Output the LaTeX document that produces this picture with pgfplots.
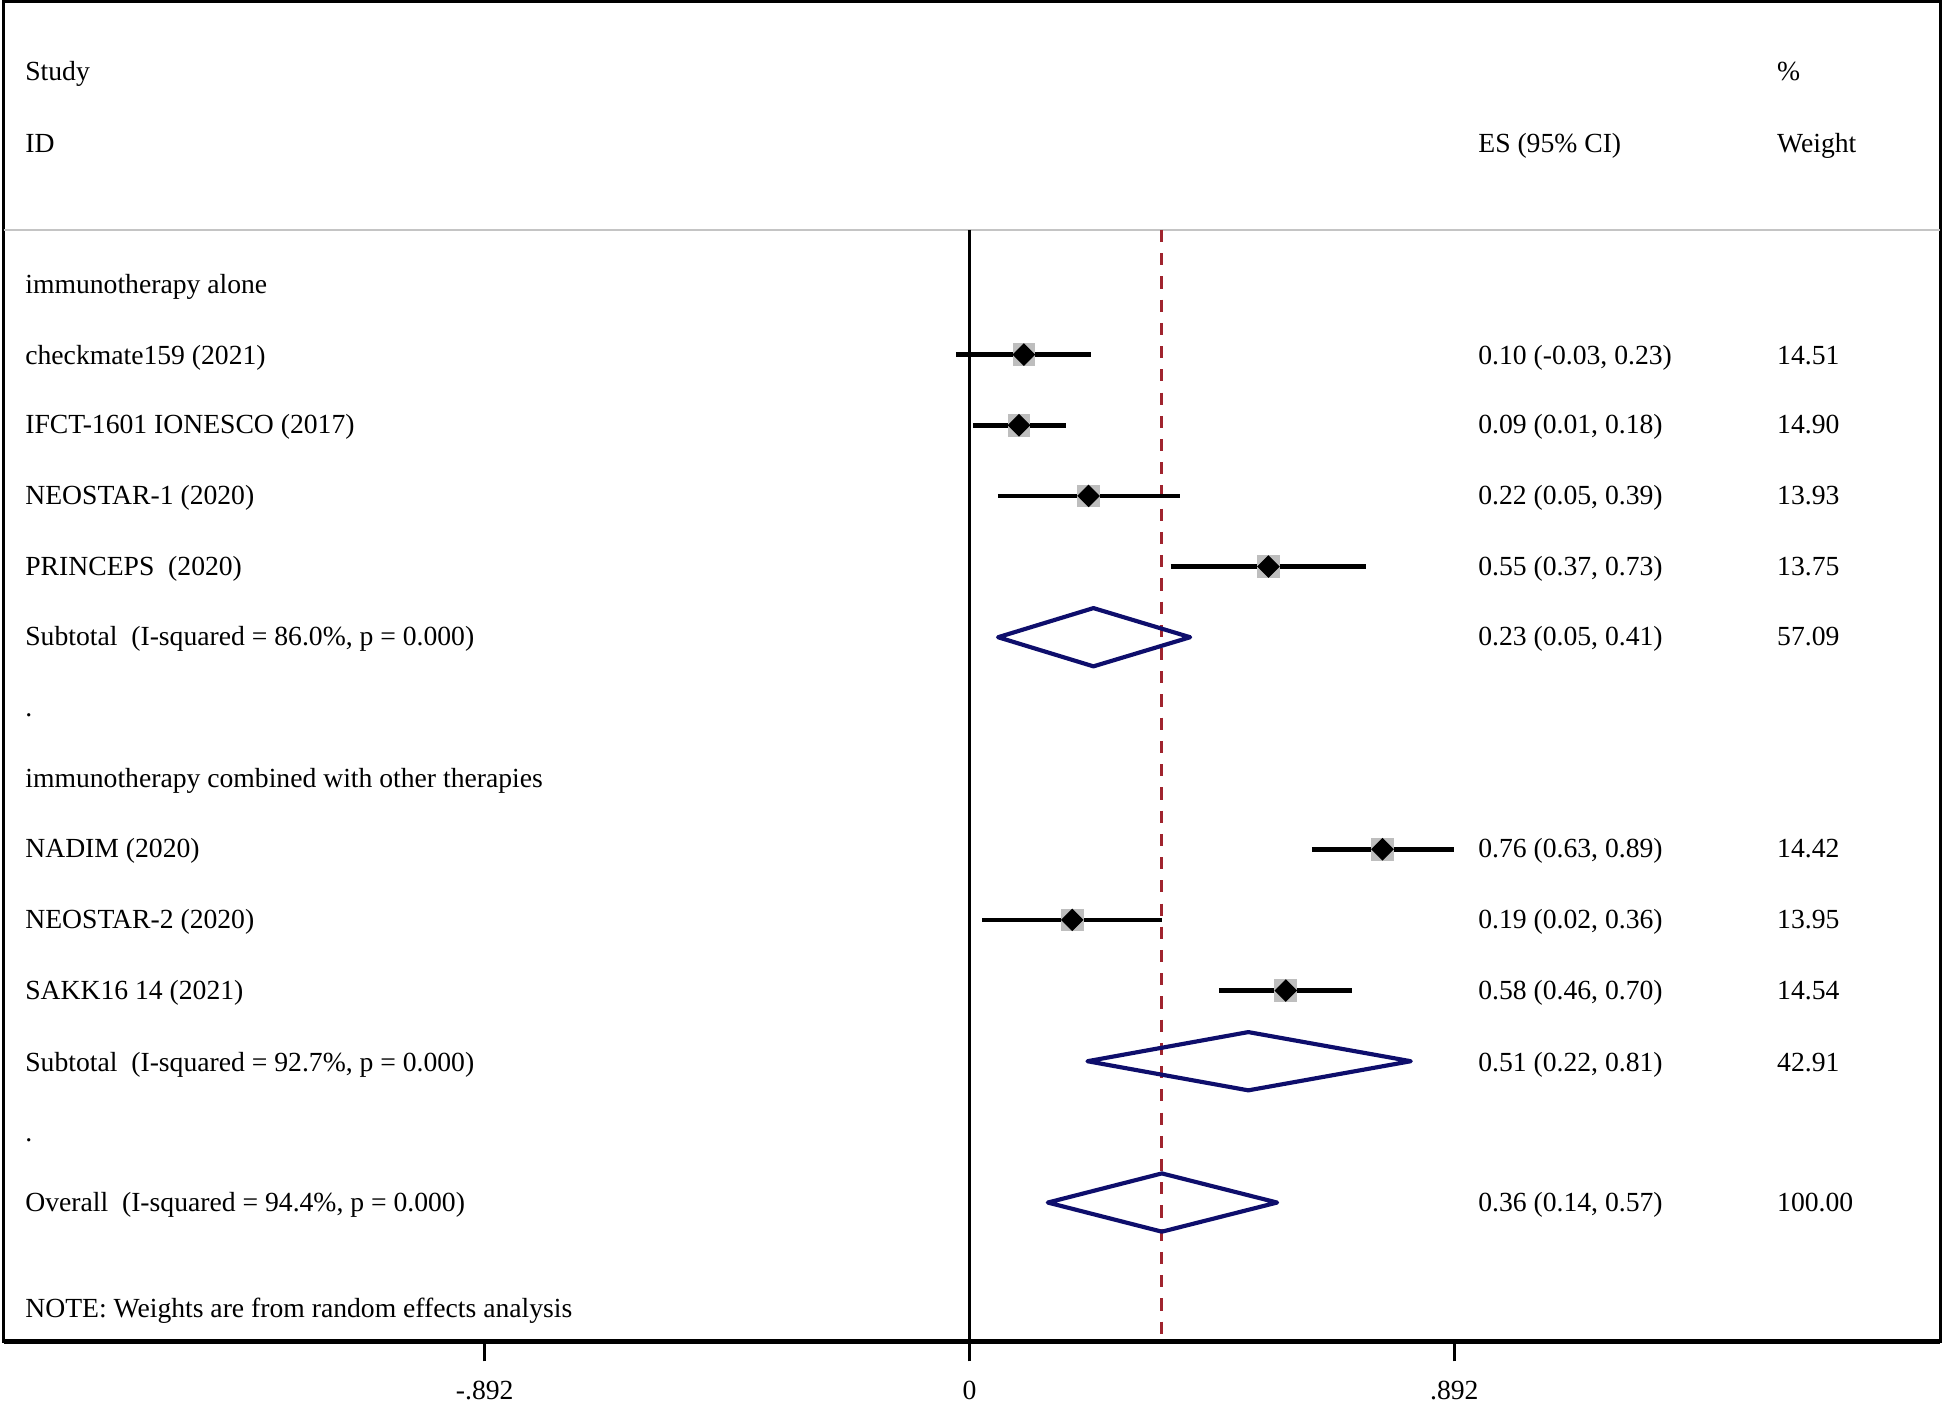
\documentclass[border=0pt]{standalone}
\usepackage{pgfplots}
\pgfplotsset{compat=1.18}
\usepackage{pgfplotstable}
\usepackage{fontspec}
\setmainfont{Liberation Serif}
\definecolor{navy}{RGB}{14,14,108}
\definecolor{dashred}{RGB}{160,36,46}
\definecolor{boxgray}{RGB}{190,190,190}
\definecolor{sepgray}{RGB}{196,196,196}

% y = minus the row position (in picture units)
\pgfplotstableread{
y es lo hi w
-286 0.100 -0.025 0.224 14.51
-343 0.091 0.007 0.178 14.90
-400 0.219 0.052 0.388 13.93
-457 0.550 0.370 0.730 13.75
-685 0.760 0.630 0.892 14.42
-742 0.189 0.023 0.354 13.95
-799 0.582 0.459 0.703 14.54
}\studies

\begin{document}
\begin{tikzpicture}
\useasboundingbox (-1.345pt,-24.2pt) rectangle (701.75pt,485.15pt);
\begin{axis}[
  at={(0pt,0pt)}, anchor=south west,
  scale only axis, width=700.4pt, height=484.7pt,
  xmin=-1.7772, xmax=1.7863, ymin=-1082, ymax=-1,
  axis line style={line width=1.1pt},
  xtick={-0.892,0,0.892}, xticklabels={-.892,0,.892},
  ytick=\empty,
  tick align=outside, xtick pos=left,
  major tick length=7.2pt,
  every tick/.style={black, line width=1.1pt},
  tick label style={font=\fontsize{10}{12}\selectfont},
  xticklabel style={yshift=-3.8pt},
  /pgf/number format/assume math mode=true,
  clip=false,
]
% header separator and bottom border
\addplot[sepgray, line width=0.9pt] coordinates {(-1.7772,-185.5) (1.7863,-185.5)};
\addplot[black, line width=1.6pt] coordinates {(-1.7772,-1082) (1.7863,-1082)};
% zero line and overall estimate line
\addplot[black, line width=1pt] coordinates {(0,-185.5) (0,-1082)};
\addplot[dashred, line width=1.1pt, dash pattern=on 4.4pt off 4pt] coordinates {(0.354,-185.5) (0.354,-1082)};
% weight boxes
\addplot[boxgray, only marks, mark=square*, mark size=3.92pt, mark options={draw=boxgray, fill=boxgray, line width=0pt}] table[x=es, y=y] {\studies};
% confidence intervals
\addplot[black, line width=1.7pt] coordinates {(-0.025,-286) (0.224,-286)};
\addplot[black, line width=1.7pt] coordinates {(0.007,-343) (0.178,-343)};
\addplot[black, line width=1.7pt] coordinates {(0.052,-400) (0.388,-400)};
\addplot[black, line width=1.7pt] coordinates {(0.370,-457) (0.730,-457)};
\addplot[black, line width=1.7pt] coordinates {(0.630,-685) (0.892,-685)};
\addplot[black, line width=1.7pt] coordinates {(0.023,-742) (0.354,-742)};
\addplot[black, line width=1.7pt] coordinates {(0.459,-799) (0.703,-799)};
% point estimates
\addplot[black, only marks, mark=square*, mark size=2.7pt, mark options={draw=none, fill=black, rotate=45}] table[x=es, y=y] {\studies};
% pooled diamonds
\addplot[navy, line width=1.5pt, line join=round] coordinates {(0.0525,-514) (0.228,-490.5) (0.406,-514) (0.228,-537.5)} -- cycle;
\addplot[navy, line width=1.5pt, line join=round] coordinates {(0.217,-856) (0.513,-832.5) (0.812,-856) (0.513,-879.5)} -- cycle;
\addplot[navy, line width=1.5pt, line join=round] coordinates {(0.144,-970) (0.354,-946.5) (0.566,-970) (0.354,-993.5)} -- cycle;

% text
\def\lx{-1.7384}
\def\ex{0.9353}
\def\wx{1.4852}
\tikzset{lab/.style={anchor=base west, inner sep=0pt, font=\fontsize{10}{12}\selectfont}}
\node[lab] at (axis cs:\lx,-65) {Study};
\node[lab] at (axis cs:\lx,-123) {ID};
\node[lab] at (axis cs:\ex,-123) {ES (95\% CI)};
\node[lab] at (axis cs:\wx,-65) {\%};
\node[lab] at (axis cs:\wx,-123) {Weight};

\node[lab] at (axis cs:\lx,-237) {immunotherapy alone};
\node[lab] at (axis cs:\lx,-294) {checkmate159 (2021)};
\node[lab] at (axis cs:\lx,-350) {IFCT-1601 IONESCO (2017)};
\node[lab] at (axis cs:\lx,-407) {NEOSTAR-1 (2020)};
\node[lab] at (axis cs:\lx,-464) {PRINCEPS\ \ (2020)};
\node[lab] at (axis cs:\lx,-521) {Subtotal\ \ (I-squared = 86.0\%, p = 0.000)};
\node[lab] at (axis cs:\lx,-578) {.};
\node[lab] at (axis cs:\lx,-635) {immunotherapy combined with other therapies};
\node[lab] at (axis cs:\lx,-692) {NADIM (2020)};
\node[lab] at (axis cs:\lx,-749) {NEOSTAR-2 (2020)};
\node[lab] at (axis cs:\lx,-806) {SAKK16 14 (2021)};
\node[lab] at (axis cs:\lx,-864) {Subtotal\ \ (I-squared = 92.7\%, p = 0.000)};
\node[lab] at (axis cs:\lx,-921) {.};
\node[lab] at (axis cs:\lx,-977) {Overall\ \ (I-squared = 94.4\%, p = 0.000)};
\node[lab] at (axis cs:\lx,-1063) {NOTE: Weights are from random effects analysis};

\node[lab] at (axis cs:\ex,-294) {0.10 (-0.03, 0.23)};
\node[lab] at (axis cs:\ex,-350) {0.09 (0.01, 0.18)};
\node[lab] at (axis cs:\ex,-407) {0.22 (0.05, 0.39)};
\node[lab] at (axis cs:\ex,-464) {0.55 (0.37, 0.73)};
\node[lab] at (axis cs:\ex,-521) {0.23 (0.05, 0.41)};
\node[lab] at (axis cs:\ex,-692) {0.76 (0.63, 0.89)};
\node[lab] at (axis cs:\ex,-749) {0.19 (0.02, 0.36)};
\node[lab] at (axis cs:\ex,-806) {0.58 (0.46, 0.70)};
\node[lab] at (axis cs:\ex,-864) {0.51 (0.22, 0.81)};
\node[lab] at (axis cs:\ex,-977) {0.36 (0.14, 0.57)};

\node[lab] at (axis cs:\wx,-294) {14.51};
\node[lab] at (axis cs:\wx,-350) {14.90};
\node[lab] at (axis cs:\wx,-407) {13.93};
\node[lab] at (axis cs:\wx,-464) {13.75};
\node[lab] at (axis cs:\wx,-521) {57.09};
\node[lab] at (axis cs:\wx,-692) {14.42};
\node[lab] at (axis cs:\wx,-749) {13.95};
\node[lab] at (axis cs:\wx,-806) {14.54};
\node[lab] at (axis cs:\wx,-864) {42.91};
\node[lab] at (axis cs:\wx,-977) {100.00};
\end{axis}
\end{tikzpicture}
\end{document}
